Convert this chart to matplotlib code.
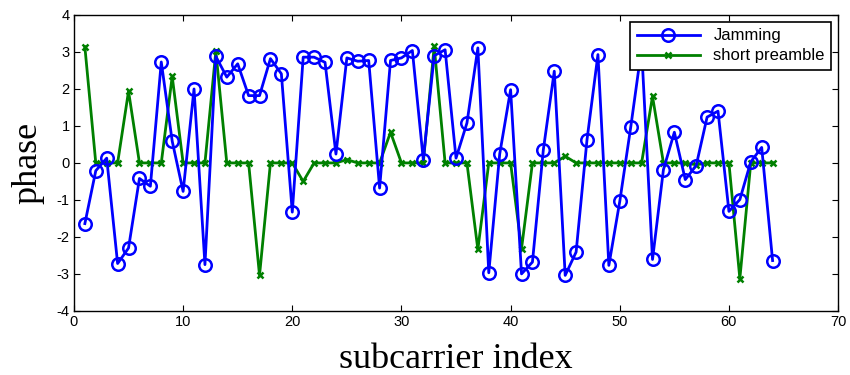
import numpy as np
import matplotlib
matplotlib.use("Agg")
import matplotlib.pyplot as plt

subcarrier = np.arange(1, 65)

jamming = [
    -1.64, -0.21, 0.13, -2.72, -2.30, -0.42, -0.63, 2.73, 0.59, -0.77,
    2.00, -2.75, 2.88, 2.32, 2.68, 1.82, 1.82, 2.82, 2.41, -1.33,
    2.86, 2.86, 2.72, 0.24, 2.84, 2.75, 2.77, -0.68, 2.77, 2.84,
    3.04, 0.09, 2.90, 3.06, 0.13, 1.08, 3.11, -2.97, 0.24, 1.98,
    -3.00, -2.68, 0.36, 2.48, -3.04, -2.41, 0.63, 2.93, -2.77, -1.04,
    0.96, 3.10, -2.61, -0.18, 0.83, -0.45, -0.07, 1.24, 1.40, -1.31,
    -0.99, 0.03, 0.42, -2.64,
]

short_preamble = [
    3.14, 0, 0, 0, 1.94, 0, 0, 0, 2.34, 0,
    0, 0, 3.02, 0, 0, 0, -3.04, 0, 0, 0,
    -0.50, 0, 0, 0, 0.09, 0, 0, 0, 0.83, 0,
    0, 0, 3.15, 0, 0, 0, -2.34, 0, 0, 0,
    -2.32, 0, 0, 0, 0.18, 0, 0, 0, 0, 0,
    0, 0, 1.80, 0, 0, 0, -0.05, 0, 0, 0,
    -3.13, 0, 0, 0,
]

plt.rcParams.update({"font.family": "Liberation Sans", "font.size": 10.5,
                     "axes.unicode_minus": False})

fig = plt.figure(figsize=(8.5, 3.75), dpi=100)
ax = fig.add_axes([0.087, 0.171, 0.899, 0.789])

ax.plot(subcarrier, jamming, color="#0000ff", lw=2, marker="o", ms=9,
        mfc="none", mec="#0000ff", mew=1.8, label="Jamming", zorder=3)
ax.plot(subcarrier, short_preamble, color="#008000", lw=2, marker="x", ms=4,
        mew=1.8, label="short preamble", zorder=2)

ax.set_xlim(0, 70)
ax.set_ylim(-4, 4)
ax.set_xticks(np.arange(0, 71, 10))
ax.set_yticks(np.arange(-4, 5, 1))
ax.tick_params(direction="in", top=True, right=True, length=4, pad=3)
for s in ax.spines.values():
    s.set_linewidth(1.0)

ax.set_xlabel("subcarrier index", family="Liberation Serif", fontsize=26, labelpad=10)
ax.set_ylabel("phase", family="Liberation Serif", fontsize=26, labelpad=9)

leg = ax.legend(loc="upper right", fontsize=12, fancybox=False, framealpha=1,
                edgecolor="black", borderaxespad=0.4, handlelength=3.8,
                labelspacing=0.3, borderpad=0.4)
leg.get_frame().set_linewidth(1.2)
leg.set_zorder(10)

fig.savefig("out.png", dpi=100)
